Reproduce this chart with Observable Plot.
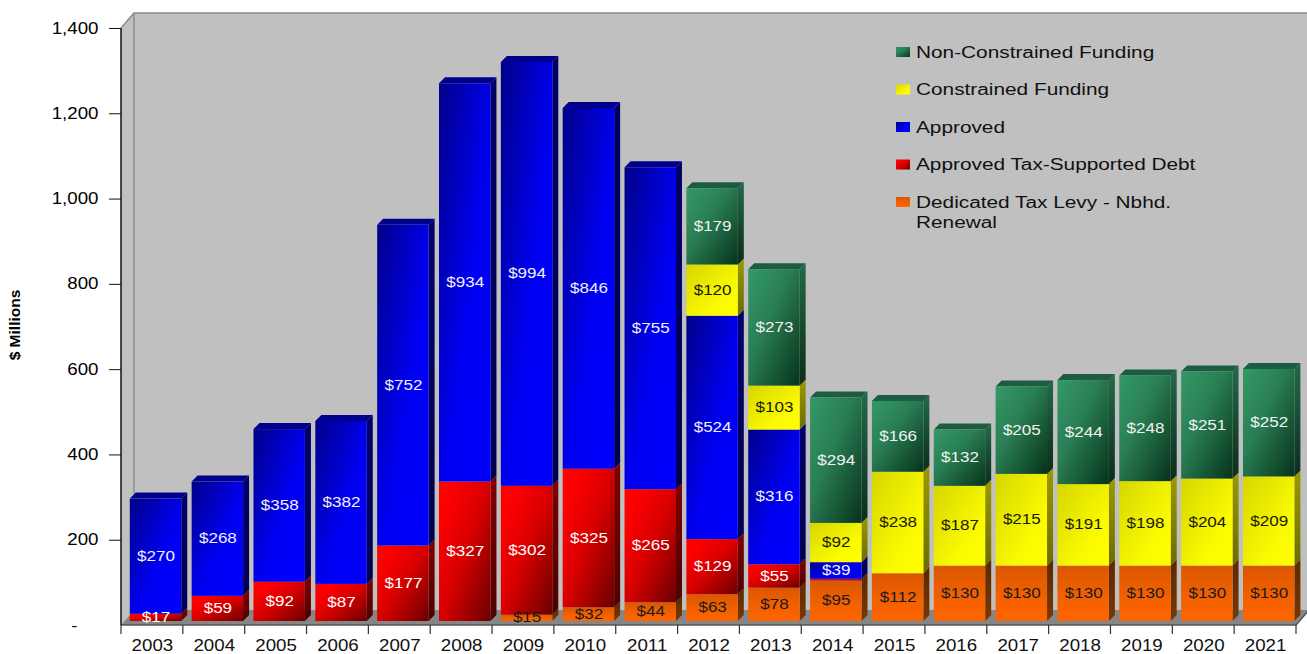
<!DOCTYPE html>
<html>
<head>
<meta charset="utf-8">
<title>Capital funding by source, 2003-2021</title>
<style>
  html, body { margin: 0; padding: 0; background: #fff; }
  svg { display: block; }
</style>
<script src="https://cdn.jsdelivr.net/npm/d3@7"></script>
<script src="https://cdn.jsdelivr.net/npm/@observablehq/plot@0.6"></script>
</head>
<body>
<div id="chart"></div>
<script>
// Funding in $ millions per year, listed from the bottom of each stack upward.
const years = ["2003","2004","2005","2006","2007","2008","2009","2010","2011","2012","2013","2014","2015","2016","2017","2018","2019","2020","2021"];
const dedicatedLevy = [0,0,0,0,0,0,15,32,44,63,78,95,112,130,130,130,130,130,130];
const taxDebt       = [17,59,92,87,177,327,302,325,265,129,55,4,0,0,0,0,0,0,0];
const approved      = [270,268,358,382,752,934,994,846,755,524,316,39,0,0,0,0,0,0,0];
const constrained   = [0,0,0,0,0,0,0,0,0,120,103,92,238,187,215,191,198,204,209];
const nonConstrained= [0,0,0,0,0,0,0,0,0,179,273,294,166,132,205,244,248,251,252];

const seriesNames = ["Dedicated Tax Levy - Nbhd. Renewal","Approved Tax-Supported Debt","Approved","Constrained Funding","Non-Constrained Funding"];
const seriesValues = [dedicatedLevy, taxDebt, approved, constrained, nonConstrained];
const seriesKeys = ["levy","debt","appr","cons","nonc"];
const unlabelled = new Set(["2014|Approved Tax-Supported Debt"]);

// Paint for each series: front face gradient, side face gradient, top face, label ink.
const paint = {
  levy: {front:{dir:[0,0,0,1], stops:[[0,"#d95700"],[0.55,"#f26000"],[1,"#ff6600"]]}, side:["#5c2800","#7a3800"], top:"#8a3e00", ink:"#1a1a1a"},
  debt: {front:{dir:[0,0,1,1], stops:[[0.15,"#ff0000"],[0.5,"#d80000"],[1,"#6a0000"]]}, side:["#800000","#4e0000"], top:"#800000", ink:"#ffffff"},
  appr: {front:{dir:[0,0,1,1], stops:[[0,"#000088"],[0.55,"#0000f0"],[1,"#0000ff"]]}, side:["#00006a","#000050"], top:"#00008c", ink:"#f0f0ff"},
  cons: {front:{dir:[0,0,1,1], stops:[[0,"#d6d600"],[0.7,"#fbfb00"],[1,"#ffff00"]]}, side:["#9a9a00","#6c6c00"], top:"#9a9a00", ink:"#1a1a00"},
  nonc: {front:{dir:[0,0,1,1], stops:[[0,"#339966"],[0.4,"#2a7f55"],[1,"#06331a"]]}, side:["#24694a","#0c2c1c"], top:"#1d5c40", ink:"#f2f2f2"}
};

// One row per visible segment, carrying its stack extent.
const rows = [];
years.forEach((year, i) => {
  let base = 0;
  seriesNames.forEach((name, s) => {
    const value = seriesValues[s][i];
    if (value > 0) {
      rows.push({year, series: name, key: seriesKeys[s], value, y0: base, y1: base + value, mid: base + value / 2});
      base += value;
    }
  });
});
const topOfYear = d3.rollup(rows, r => d3.max(r, d => d.y1), d => d.year);

// Pseudo-perspective offsets, in pixels.
const wallDepth = {x: 13, y: 15};
const barLift = {x: 3.6, y: 4};
const sliceDepth = 6;
const barInset = 5.2;

const defs = () => {
  const g = d3.create("svg:defs");
  const add = (id, dir, stops) => {
    const lg = g.append("linearGradient").attr("id", id)
      .attr("x1", dir[0]).attr("y1", dir[1]).attr("x2", dir[2]).attr("y2", dir[3]);
    stops.forEach(([o, c]) => lg.append("stop").attr("offset", o).attr("stop-color", c));
  };
  for (const k of seriesKeys) {
    add("front-" + k, paint[k].front.dir, paint[k].front.stops);
    add("side-" + k, [0,0,0,1], [[0, paint[k].side[0]],[1, paint[k].side[1]]]);
  }
  return g.node();
};

// Back wall, side wall and floor of the chart box, with the category ticks.
const chartBox = (index, {x, y}, values, {width, height, marginLeft, marginRight}) => {
  const g = d3.create("svg:g");
  const left = marginLeft, right = width - marginRight;
  const top = y(1400), bottom = y(0), dx = wallDepth.x, dy = wallDepth.y;
  g.append("rect").attr("x", left + dx).attr("y", top - dy)
    .attr("width", width - left - dx).attr("height", bottom - top).attr("fill", "#c0c0c0");
  g.append("path").attr("fill", "#c0c0c0")
    .attr("d", `M${left},${top}L${left+dx},${top-dy}V${bottom-dy}L${left},${bottom}Z`);
  g.append("path").attr("fill", "#868686")
    .attr("d", `M${left},${bottom}L${left+dx},${bottom-dy}H${right+dx}L${right},${bottom}Z`);
  g.append("path").attr("fill", "none").attr("stroke", "#8c8c8c").attr("stroke-width", 1.5)
    .attr("d", `M${left},${top}L${left+dx},${top-dy}H${width}M${left+dx},${top-dy}V${bottom-dy}`);
  g.append("path").attr("fill", "none").attr("stroke", "#555").attr("stroke-width", 1.5)
    .attr("d", `M${left},${bottom}H${right}L${right+dx},${bottom-dy}`);
  g.append("line").attr("x1", left).attr("x2", left).attr("y1", top).attr("y2", bottom)
    .attr("stroke", "#111").attr("stroke-width", 1.5);
  const step = x(years[1]) - x(years[0]);
  d3.range(years.length + 1).forEach(i => {
    const px = x(years[0]) + i * step;
    g.append("line").attr("x1", px).attr("x2", px).attr("y1", bottom).attr("y2", bottom + 9)
      .attr("stroke", "#333").attr("stroke-width", 1.2);
  });
  return g.node();
};

// Right-hand and top faces of the bars, scaled from the same stack extents.
const barFaces = (index, {x, y}) => {
  const g = d3.create("svg:g");
  const step = x(years[1]) - x(years[0]);
  for (const d of rows) {
    const xl = x(d.year) + barInset + barLift.x;
    const xr = x(d.year) + step - barInset + barLift.x;
    const y0 = y(d.y0) - barLift.y, y1 = y(d.y1) - barLift.y;
    g.append("path").attr("fill", `url(#side-${d.key})`)
      .attr("d", `M${xr},${y0}V${y1}L${xr+sliceDepth},${y1-sliceDepth}V${y0-sliceDepth}Z`);
    if (d.y1 === topOfYear.get(d.year)) {
      g.append("path").attr("fill", paint[d.key].top)
        .attr("d", `M${xl},${y1}L${xl+sliceDepth},${y1-sliceDepth}H${xr+sliceDepth}L${xr},${y1}Z`);
    }
  }
  return g.node();
};

// Legend, top entry first, set on the back wall.
const legendRows = [
  {key:"nonc", lines:["Non-Constrained Funding"]},
  {key:"cons", lines:["Constrained Funding"]},
  {key:"appr", lines:["Approved"]},
  {key:"debt", lines:["Approved Tax-Supported Debt"]},
  {key:"levy", lines:["Dedicated Tax Levy - Nbhd.","Renewal"]}
];
const legend = () => {
  const g = d3.create("svg:g");
  legendRows.forEach((row, i) => {
    const cy = 52 + i * 37.5;
    g.append("rect").attr("x", 896).attr("y", cy - 5).attr("width", 14).attr("height", 10)
      .attr("fill", `url(#front-${row.key})`);
    row.lines.forEach((line, j) => {
      g.append("text").attr("class", "legend-label").attr("x", 916).attr("y", cy + 5.5 + j * 20)
        .attr("text-anchor", "start")
        .attr("font-size", 16).attr("fill", "#111").text(line);
    });
  });
  return g.node();
};

const chart = Plot.plot({
  width: 1307,
  height: 654,
  marginLeft: 121,
  marginRight: 11,
  marginTop: 28,
  marginBottom: 29,
  style: {fontFamily: "'Liberation Sans', Arial, sans-serif", background: "#fff", overflow: "visible"},
  x: {domain: years, padding: 0, round: false, label: null},
  y: {domain: [0, 1400], label: null},
  color: {domain: seriesKeys, range: seriesKeys.map(k => `url(#front-${k})`)},
  marks: [
    defs,
    chartBox,
    barFaces,
    Plot.barY(rows, {x: "year", y1: "y0", y2: "y1", fill: "key", inset: 0, insetLeft: barInset, insetRight: barInset, dx: barLift.x, dy: -barLift.y}),
    Plot.text(rows.filter(d => !unlabelled.has(d.year + "|" + d.series)), {
      x: "year", y: "mid", text: d => "$" + d.value,
      fill: d => paint[d.key].ink, dx: barLift.x, dy: -barLift.y - 0.5,
      fontSize: 14.2, className: "stretch"
    }),
    Plot.axisY({
      ticks: d3.range(200, 1401, 200), tickSize: 12, tickPadding: 11,
      tickFormat: d3.format(","), fontSize: 15.6, label: null, className: "stretch", stroke: "#111"
    }),
    Plot.text(["-"], {y: () => 0, frameAnchor: "left", dx: -44, textAnchor: "end", fontSize: 15.6, className: "stretch", fill: "#111"}),
    Plot.axisX({tickSize: 0, tickPadding: 14, fontSize: 15.6, label: null, className: "stretch", fill: "#111"}),
    Plot.text(["$ Millions"], {frameAnchor: "left", rotate: -90, dx: -106, dy: -2, textAnchor: "middle", fontSize: 15.5, fontWeight: "bold", fill: "#000"}),
    legend
  ]
});
document.getElementById("chart").appendChild(chart);

// The type on this chart is set wider than the font's natural proportions.
const widen = (selection, factor) => selection.each(function () {
  this.setAttribute("lengthAdjust", "spacingAndGlyphs");
  this.setAttribute("textLength", (this.getComputedTextLength() * factor).toFixed(1));
});
widen(d3.select(chart).selectAll(".stretch text, text.stretch"), 1.2);
widen(d3.select(chart).selectAll("text.legend-label"), 1.3);
</script>
</body>
</html>
